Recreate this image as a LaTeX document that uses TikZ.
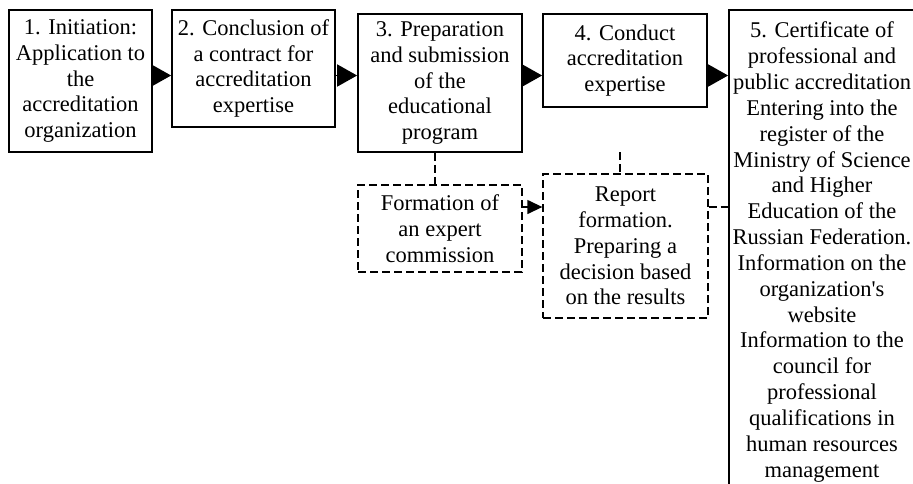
\documentclass[tikz,border=0pt]{standalone}
\usepackage{fontspec}
\setmainfont{Liberation Serif}
\usetikzlibrary{arrows.meta}

\begin{document}
\begin{tikzpicture}[
        stage/.style={draw,line width=1pt,align=center,inner sep=0pt,font=\fontsize{12.8}{14.7}\selectfont},
        aux/.style={stage,line width=0.75pt,dash pattern=on 0.16cm off 0.08cm},
        fwd/.style={line width=1pt,-{Triangle[length=0.4cm,width=0.44cm]}},
        small/.style={line width=0.75pt,-{Triangle[length=0.3cm,width=0.28cm]}},
        link/.style={line width=0.75pt,dash pattern=on 0.16cm off 0.08cm}]
        \useasboundingbox (0,0) rectangle (18.26,-9.66);
        \clip (0,0) rectangle (18.26,-9.66);
        \node[stage,minimum width=2.86cm,minimum height=2.84cm](init)at(1.61,-1.62){1. Initiation:\\Application to\\the\\accreditation\\organization};
        \node[stage,minimum width=3.26cm,minimum height=2.34cm](contract)at(5.07,-1.37){2. Conclusion of\\a contract for\\accreditation\\expertise};
        \node[stage,minimum width=3.28cm,minimum height=2.76cm](program)at(8.80,-1.66){3. Preparation\\and submission\\of the\\educational\\program};
        \node[stage,minimum width=3.28cm,minimum height=1.86cm](expertise)at(12.50,-1.21){4. Conduct\\accreditation\\expertise};
        \node[stage,minimum width=3.72cm,minimum height=9.68cm](cert)at(16.44,-5.04){5. Certificate of\\professional and\\public accreditation\\Entering into the\\register of the\\Ministry of Science\\and Higher\\Education of the\\Russian Federation.\\Information on the\\organization\textquotesingle s\\website\\Information to the\\council for\\professional\\qualifications in\\human resources\\management};
        \node[aux,minimum width=3.28cm,minimum height=1.74cm](commission)at(8.80,-4.57){Formation of\\an expert\\commission};
        \node[aux,minimum width=3.30cm,minimum height=2.88cm](report)at(12.51,-4.92){Report\\formation.\\Preparing a\\decision based\\on the results};
        \coordinate (row) at (0,-1.51);
        \coordinate (mid) at (0,-4.14);
        \coordinate (stub) at (12.40,-3.04);
        \draw[fwd](init.east|-row)--(contract.west|-row);
        \draw[fwd](contract.east|-row)--(program.west|-row);
        \draw[fwd](program.east|-row)--(expertise.west|-row);
        \draw[fwd](expertise.east|-row)--(cert.west|-row);
        \draw[link]([xshift=-0.1cm]program.south)--([xshift=-0.1cm]program.south|-commission.north);
        \draw[link](stub)--(stub|-report.north);
        \draw[small](commission.east|-mid)--(report.west|-mid);
        \draw[link](report.east|-mid)--(cert.west|-mid);
    \end{tikzpicture}
\end{document}
